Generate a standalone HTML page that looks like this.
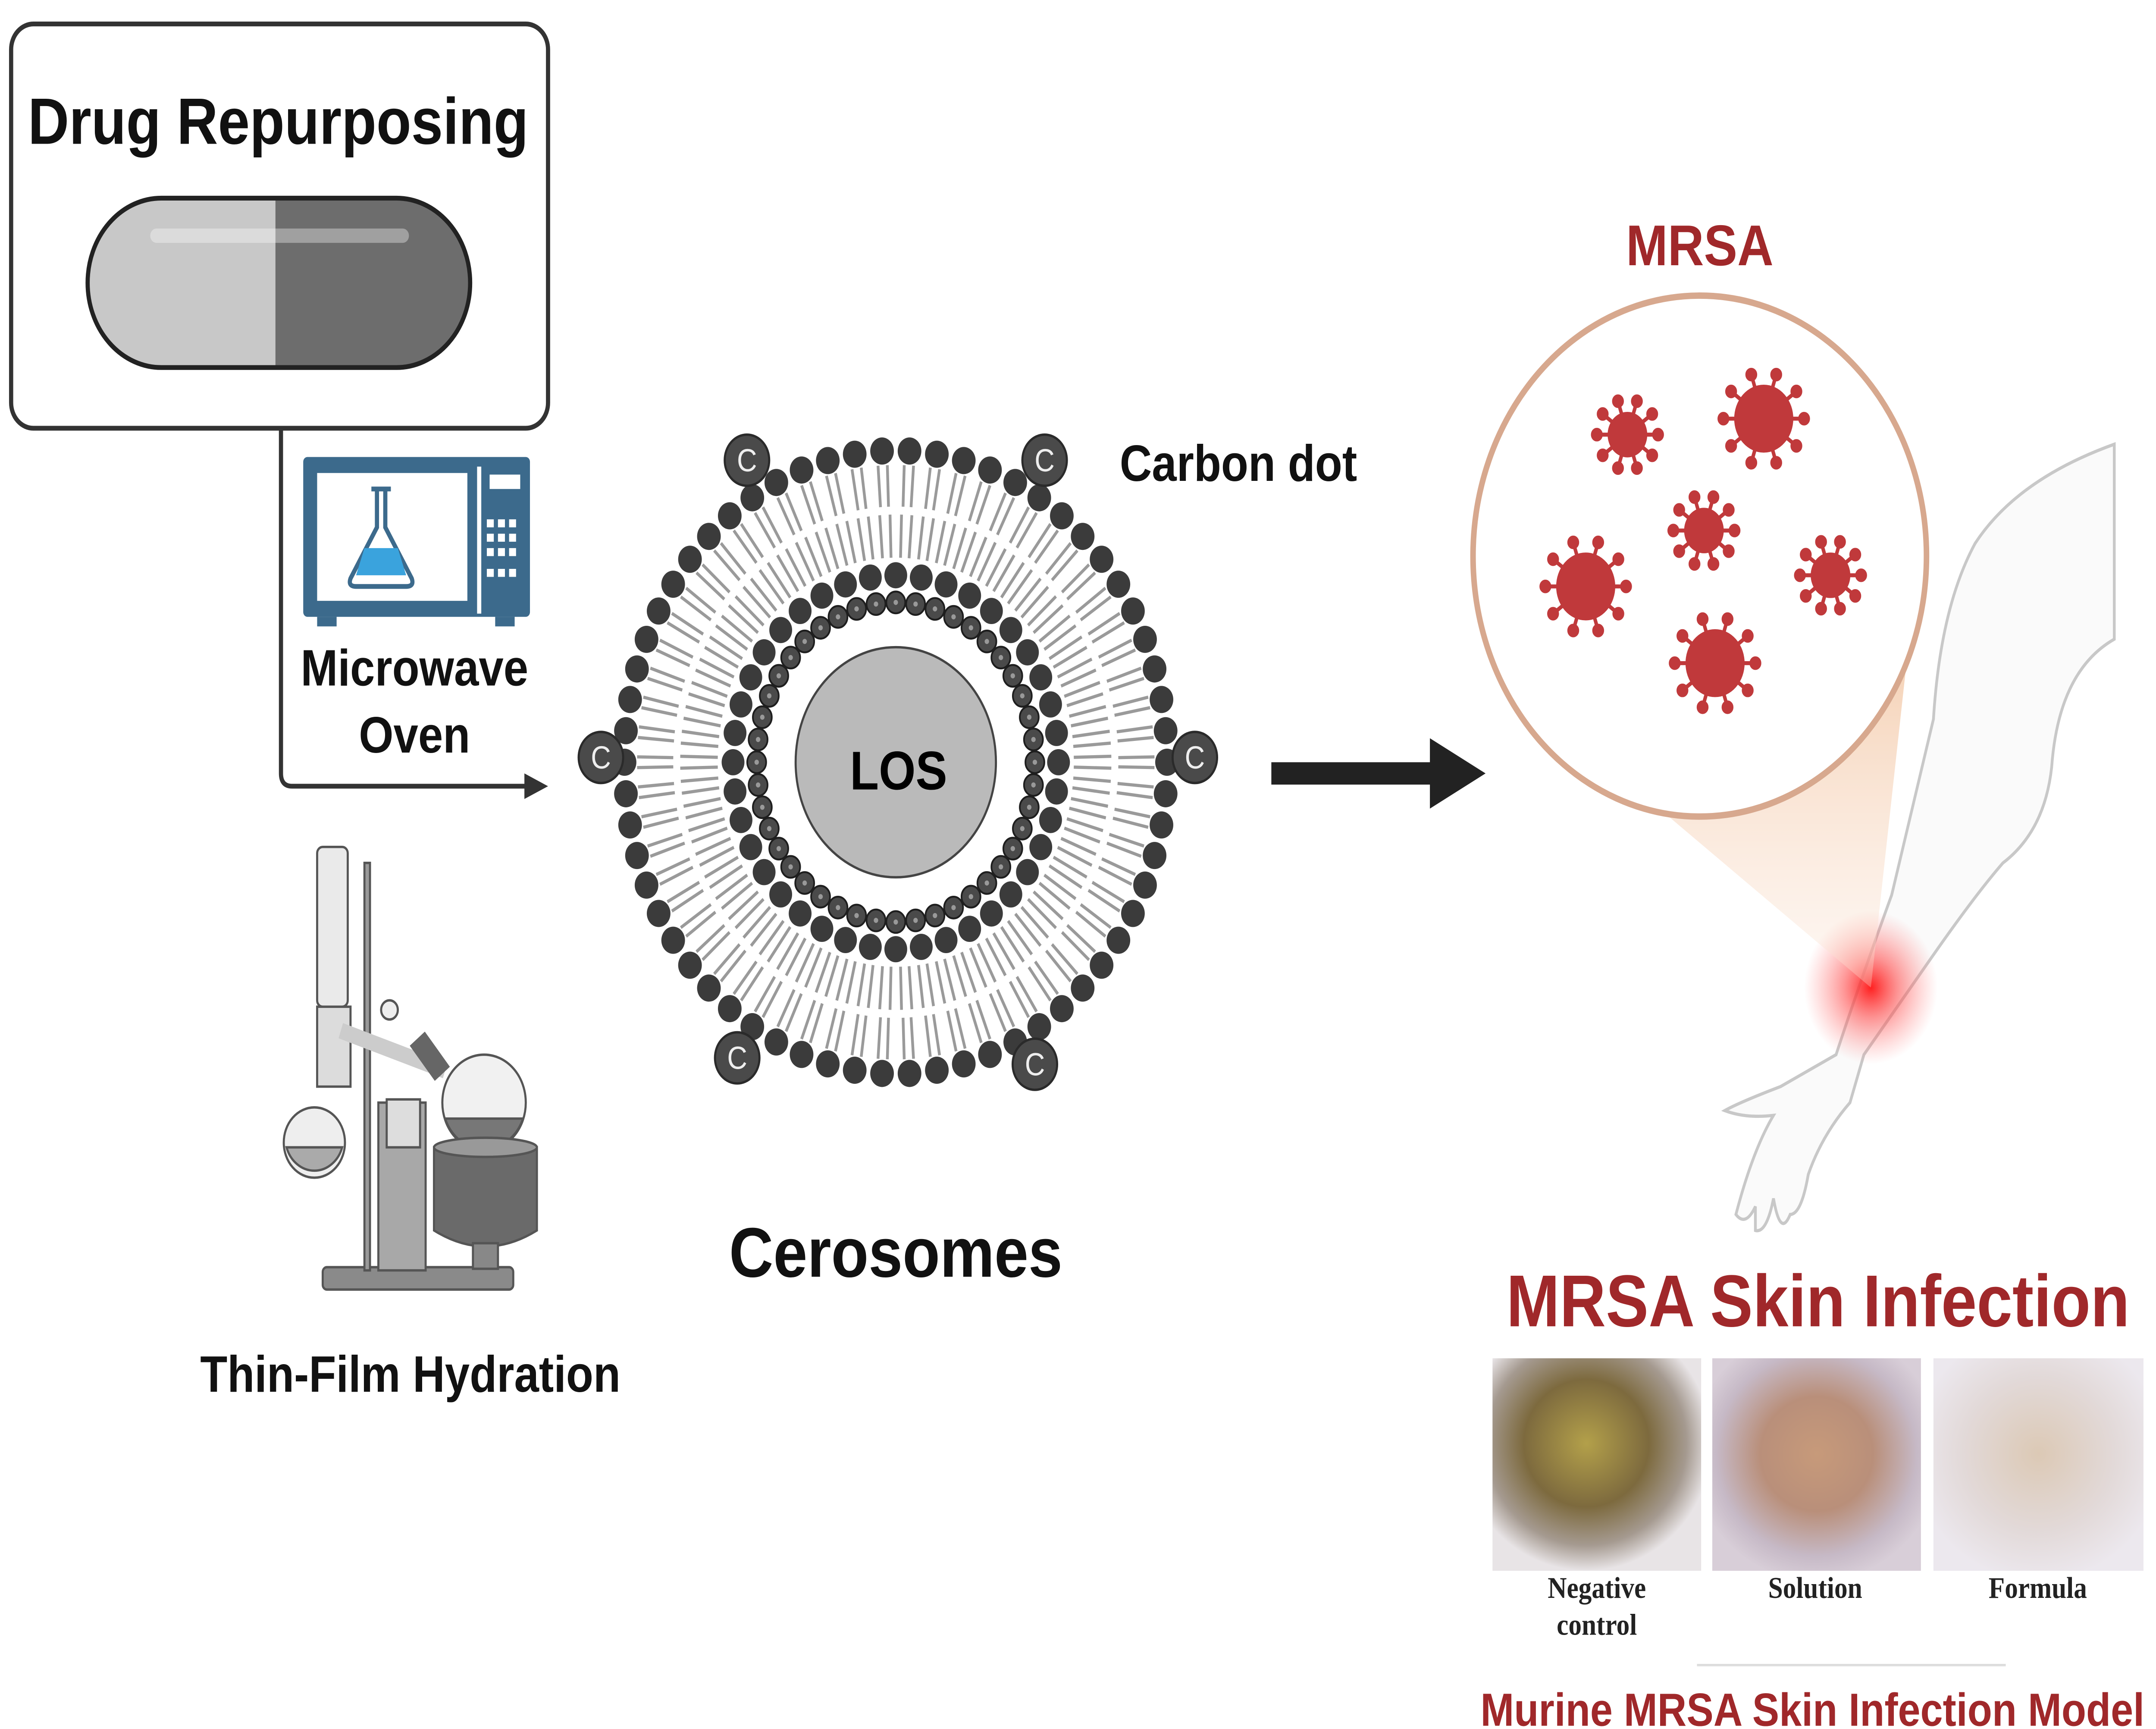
<!DOCTYPE html>
<html><head><meta charset="utf-8"><style>
html,body{margin:0;padding:0;background:#fff;width:100%;height:100%;overflow:hidden;}
svg{display:block;position:absolute;left:0;top:0;width:100vw;height:100vh;}
text{font-family:"Liberation Sans",sans-serif;}
</style></head><body>
<svg viewBox="0 0 1550 1082" preserveAspectRatio="none" xmlns="http://www.w3.org/2000/svg">
<defs>
<radialGradient id="glow"><stop offset="0" stop-color="#ff2020" stop-opacity="1"/><stop offset="0.4" stop-color="#ff5050" stop-opacity="0.6"/><stop offset="1" stop-color="#ff8080" stop-opacity="0"/></radialGradient>
<linearGradient id="cone" x1="0" y1="0" x2="0" y2="1"><stop offset="0" stop-color="#f3c9a8" stop-opacity="0.8"/><stop offset="1" stop-color="#fbe6d8" stop-opacity="0.3"/></linearGradient>
<radialGradient id="p1" cx="0.45" cy="0.4" r="0.6"><stop offset="0" stop-color="#b3a04a"/><stop offset="0.5" stop-color="#7d6a3e"/><stop offset="0.8" stop-color="#a59a90"/><stop offset="1" stop-color="#e8e4e6"/></radialGradient>
<radialGradient id="p2" cx="0.5" cy="0.45" r="0.6"><stop offset="0" stop-color="#c79a7a"/><stop offset="0.45" stop-color="#b98f7a"/><stop offset="0.8" stop-color="#c6b9c6"/><stop offset="1" stop-color="#d8ced8"/></radialGradient>
<radialGradient id="p3" cx="0.5" cy="0.45" r="0.6"><stop offset="0" stop-color="#dcc9b5"/><stop offset="0.6" stop-color="#e2d9d8"/><stop offset="1" stop-color="#ece8ee"/></radialGradient>
</defs>
<rect x="8" y="15" width="386" height="253" rx="16" fill="#fff" stroke="#333" stroke-width="3"/>
<text x="200" y="90" font-size="41" font-weight="bold" text-anchor="middle" fill="#111">Drug Repurposing</text>
<path d="M117 124 H198 V230 H117 A53 53 0 0 1 117 124Z" fill="#c8c8c8"/>
<path d="M198 124 H285 A53 53 0 0 1 285 230 H198Z" fill="#6d6d6d"/>
<rect x="63" y="124" width="275" height="106" rx="53" fill="none" stroke="#222" stroke-width="3"/>
<rect x="108" y="143" width="186" height="9" rx="4.5" fill="#fff" opacity="0.35"/>

<path d="M202 268 V484 Q202 492 210 492 H380" fill="none" stroke="#333" stroke-width="3"/>
<path d="M377 484 L394 492 L377 500Z" fill="#333"/>

<rect x="218" y="286" width="163" height="100" rx="3" fill="#3c6a8c"/>
<rect x="228" y="296" width="108" height="80" fill="#fff"/>
<rect x="343" y="292" width="3" height="92" fill="#fff"/>
<rect x="352" y="297" width="22" height="9" fill="#fff"/>
<g fill="#fff">
<rect x="350" y="325" width="5" height="5"/><rect x="358" y="325" width="5" height="5"/><rect x="366" y="325" width="5" height="5"/>
<rect x="350" y="334" width="5" height="5"/><rect x="358" y="334" width="5" height="5"/><rect x="366" y="334" width="5" height="5"/>
<rect x="350" y="343" width="5" height="5"/><rect x="358" y="343" width="5" height="5"/><rect x="366" y="343" width="5" height="5"/>
<rect x="350" y="356" width="5" height="5"/><rect x="358" y="356" width="5" height="5"/><rect x="366" y="356" width="5" height="5"/>
</g>
<rect x="228" y="386" width="14" height="6" fill="#3c6a8c"/><rect x="356" y="386" width="14" height="6" fill="#3c6a8c"/>
<path d="M267 306 H281 M271 306 V330 L252 362 Q250 367 256 367 H292 Q298 367 296 362 L277 330 V306" fill="#fff" stroke="#3c6a8c" stroke-width="3"/>
<path d="M262 343 L256 360 H292 L286 343Z" fill="#3aa3dd"/>
<text x="298" y="429" font-size="32" font-weight="bold" text-anchor="middle" fill="#111">Microwave</text>
<text x="298" y="471" font-size="32" font-weight="bold" text-anchor="middle" fill="#111">Oven</text>

<g stroke="#555" stroke-width="1.5">
<rect x="232" y="793" width="137" height="14" rx="3" fill="#8a8a8a"/>
<rect x="228" y="530" width="22" height="100" rx="4" fill="#eaeaea"/>
<rect x="262" y="540" width="4" height="255" fill="#9a9a9a"/>
<rect x="228" y="630" width="24" height="50" fill="#dcdcdc"/>
<circle cx="226" cy="715" r="22" fill="#eee"/>
<path d="M206 718 A21 21 0 0 0 246 718Z" fill="#aaa"/>
<path d="M245 645 L320 670" stroke-width="10" stroke="#ccc"/>
<rect x="272" y="690" width="34" height="105" fill="#a8a8a8"/>
<rect x="278" y="688" width="24" height="30" fill="#ddd"/>
<circle cx="348" cy="690" r="30" fill="#f1f1f1"/>
<path d="M320 700 A30 30 0 0 0 376 700Z" fill="#777"/>
<path d="M312 718 H386 V770 Q349 790 312 770Z" fill="#6a6a6a"/>
<ellipse cx="349" cy="718" rx="37" ry="6" fill="#999"/>
<rect x="340" y="778" width="18" height="16" fill="#888"/>
<circle cx="280" cy="632" r="6" fill="#eee"/>
<path d="M300 650 L318 672" stroke-width="14" stroke="#666"/>
</g>
<text x="295" y="871" font-size="32" font-weight="bold" text-anchor="middle" fill="#111">Thin-Film Hydration</text>

<circle cx="644" cy="477" r="72" fill="#bababa" stroke="#444" stroke-width="1.5"/>
<text x="646" y="494" font-size="34" font-weight="bold" text-anchor="middle" fill="#000">LOS</text>
<g id="tails" stroke="#9a9a9a" stroke-width="2"></g>
<g id="beads" fill="#3b3b3b"></g>

<text x="805" y="301" font-size="32" font-weight="bold" fill="#111">Carbon dot</text>
<text x="644" y="799" font-size="44" font-weight="bold" text-anchor="middle" fill="#111">Cerosomes</text>

<rect x="914" y="477" width="120" height="14" fill="#222"/>
<path d="M1028 462 L1068 484 L1028 506Z" fill="#222"/>

<path d="M1520 278 Q1450 300 1420 340 Q1395 380 1390 450 L1360 560 Q1335 620 1320 660 Q1300 670 1280 680 Q1250 690 1240 695 Q1255 700 1275 698 Q1260 720 1248 760 Q1255 768 1262 755 L1262 770 Q1270 772 1275 750 Q1280 775 1287 760 Q1295 760 1300 735 Q1310 710 1330 690 L1340 660 L1388 600 Q1420 560 1440 540 Q1470 520 1475 480 Q1480 420 1520 400Z" fill="#fafafa" stroke="#c8c8c8" stroke-width="2"/>
<circle cx="1345" cy="618" r="48" fill="url(#glow)"/>

<path d="M1110 445 L1345 618 L1370 420Z" fill="url(#cone)"/>
<text x="1222" y="166" font-size="36" font-weight="bold" text-anchor="middle" fill="#a0282a">MRSA</text>
<circle cx="1222" cy="348" r="163" fill="#fff" stroke="#d7a88e" stroke-width="4"/>
<g id="vir" fill="#c0393b" stroke="#c0393b" stroke-width="2.5"></g>

<text x="1307" y="830" font-size="46" font-weight="bold" text-anchor="middle" fill="#a0282a">MRSA Skin Infection</text>
<rect x="1073" y="850" width="150" height="133" fill="url(#p1)"/>
<rect x="1231" y="850" width="150" height="133" fill="url(#p2)"/>
<rect x="1390" y="850" width="151" height="133" fill="url(#p3)"/>
<g font-weight="bold" font-size="19" text-anchor="middle" fill="#222">
<text x="1148" y="1000" style="font-family:'Liberation Serif',serif">Negative</text>
<text x="1148" y="1023" style="font-family:'Liberation Serif',serif">control</text>
<text x="1305" y="1000" style="font-family:'Liberation Serif',serif">Solution</text>
<text x="1465" y="1000" style="font-family:'Liberation Serif',serif">Formula</text>
</g>
<line x1="1220" y1="1042" x2="1442" y2="1042" stroke="#ddd" stroke-width="1.5"/>
<text x="1303" y="1080" font-size="29" font-weight="bold" text-anchor="middle" fill="#a0282a">Murine MRSA Skin Infection Model</text>
</svg>
<script>
(function(){
var NS="http://www.w3.org/2000/svg",cx=644,cy=477;
var tails=document.getElementById('tails'),beads=document.getElementById('beads');
function el(tag,attrs,parent){var e=document.createElementNS(NS,tag);for(var k in attrs)e.setAttribute(k,attrs[k]);parent.appendChild(e);return e;}
function bead(x,y,r,f){return el('circle',{cx:x,cy:y,r:r,fill:f||'#3b3b3b'},beads);}
function line(a,r1,r2){el('line',{x1:cx+r1*Math.cos(a),y1:cy+r1*Math.sin(a),x2:cx+r2*Math.cos(a),y2:cy+r2*Math.sin(a)},tails);}
var n=62,i,a;
for(i=0;i<n;i++){a=i*2*Math.PI/n;line(a+0.018,186,160);line(a-0.018,186,160);line(a+0.024,155,128);line(a-0.024,155,128);bead(cx+195*Math.cos(a),cy+195*Math.sin(a),8.5);}
var m=40;for(i=0;i<m;i++){a=i*2*Math.PI/m;bead(cx+117*Math.cos(a),cy+117*Math.sin(a),8.2);}
var k=44;for(i=0;i<k;i++){a=i*2*Math.PI/k;var x=cx+100*Math.cos(a),y=cy+100*Math.sin(a);
el('circle',{cx:x,cy:y,r:6.8,fill:'#4a4a4a',stroke:'#1e1e1e','stroke-width':1.2},beads);bead(x,y,1.6,'#999');}
var cds=[[537,288],[751,288],[432,474],[859,474],[530,662],[744,666]];
cds.forEach(function(p){bead(p[0],p[1],16,'#4a4a4a');
el('circle',{cx:p[0],cy:p[1],r:16,fill:'none',stroke:'#2a2a2a','stroke-width':1.5},beads);
var t=el('text',{x:p[0],y:p[1]+7,'font-size':'20','text-anchor':'middle',fill:'#eee'},beads);t.textContent='C';});
var vir=document.getElementById('vir');
[[1170,272,13],[1268,262,20],[1225,332,13],[1140,367,20],[1316,360,13],[1233,415,20]].forEach(function(v){
el('circle',{cx:v[0],cy:v[1],r:v[2]},vir);
for(var j=0;j<10;j++){var a=j*Math.PI/5;
el('line',{x1:v[0]+v[2]*Math.cos(a),y1:v[1]+v[2]*Math.sin(a),x2:v[0]+(v[2]+8)*Math.cos(a),y2:v[1]+(v[2]+8)*Math.sin(a)},vir);
el('circle',{cx:v[0]+(v[2]+9)*Math.cos(a),cy:v[1]+(v[2]+9)*Math.sin(a),r:3},vir);}});
})();
</script>
</body></html>
